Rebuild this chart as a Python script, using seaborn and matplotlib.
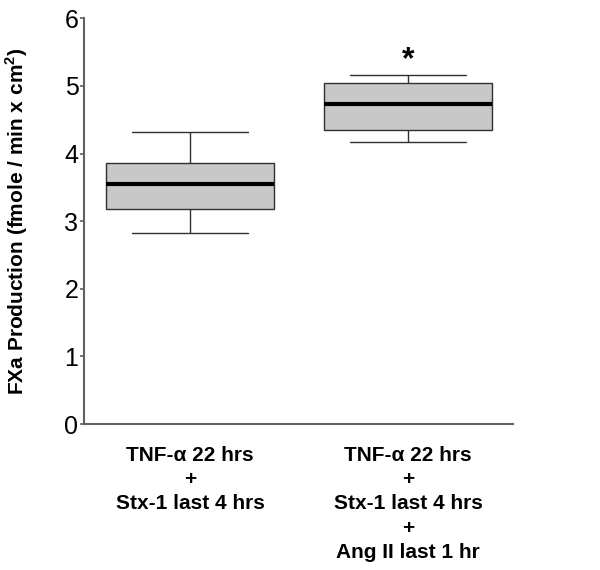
import matplotlib
matplotlib.use("Agg")
import matplotlib.pyplot as plt
import seaborn as sns
import pandas as pd

# Five-number summaries: [min, Q1, median, Q3, max]
groups = ["TNF-\u03b1 22 hrs\n+\nStx-1 last 4 hrs",
          "TNF-\u03b1 22 hrs\n+\nStx-1 last 4 hrs\n+\nAng II last 1 hr"]
group1_summary = [2.82, 3.18, 3.55, 3.86, 4.32]
group2_summary = [4.17, 4.35, 4.73, 5.04, 5.16]
y_ticks = [0, 1, 2, 3, 4, 5, 6]
y_label = "FXa Production (fmole / min x cm$^\\mathbf{2}$)"
star_value = 5.38

df = pd.DataFrame({
    "group": [groups[0]] * len(group1_summary) + [groups[1]] * len(group2_summary),
    "value": group1_summary + group2_summary,
})

sns.set_style("white")
plt.rcParams["font.family"] = ["Liberation Sans", "DejaVu Sans"]
plt.rcParams["mathtext.fontset"] = "custom"
plt.rcParams["mathtext.bf"] = "Liberation Sans:bold"
plt.rcParams["mathtext.rm"] = "Liberation Sans"
plt.rcParams["text.color"] = "black"
plt.rcParams["axes.labelcolor"] = "black"
plt.rcParams["xtick.color"] = "black"
plt.rcParams["ytick.color"] = "black"

fig = plt.figure(figsize=(6, 5.7), dpi=100)
ax = fig.add_axes([0.14, 0.256, 0.715, 0.712])

edge = "#303030"
sns.boxplot(data=df, x="group", y="value", order=groups, ax=ax,
            width=0.77, whis=(0, 100), color="#c8c8c8", saturation=1,
            linecolor=edge, linewidth=1.0, capwidths=0.53,
            medianprops=dict(color="black", linewidth=3.0),
            boxprops=dict(edgecolor=edge, facecolor="#c8c8c8"))

ax.text(1, star_value, "*", ha="center", va="center", fontsize=23,
        fontweight="bold", color="black")

ax.set_ylim(0, 6)
ax.set_xlim(-0.486, 1.48)
ax.set_yticks(y_ticks)
ax.set_yticklabels([str(t) for t in y_ticks], fontsize=18, color="black")
ax.set_xticks([0, 1])
ax.set_xticklabels(groups, fontsize=15, fontweight="bold", linespacing=1.36,
                   color="black")
ax.set_xlabel("")
ax.set_ylabel(y_label, fontsize=15, fontweight="bold", labelpad=25,
              color="black")

for s in ["top", "right"]:
    ax.spines[s].set_visible(False)
for s in ["left", "bottom"]:
    ax.spines[s].set_color("#606060")
    ax.spines[s].set_linewidth(1.5)
ax.tick_params(axis="y", left=True, length=3, width=1.2, color="#606060", pad=1)
ax.tick_params(axis="x", bottom=False, pad=12)

fig.savefig("out.png", dpi=100)
